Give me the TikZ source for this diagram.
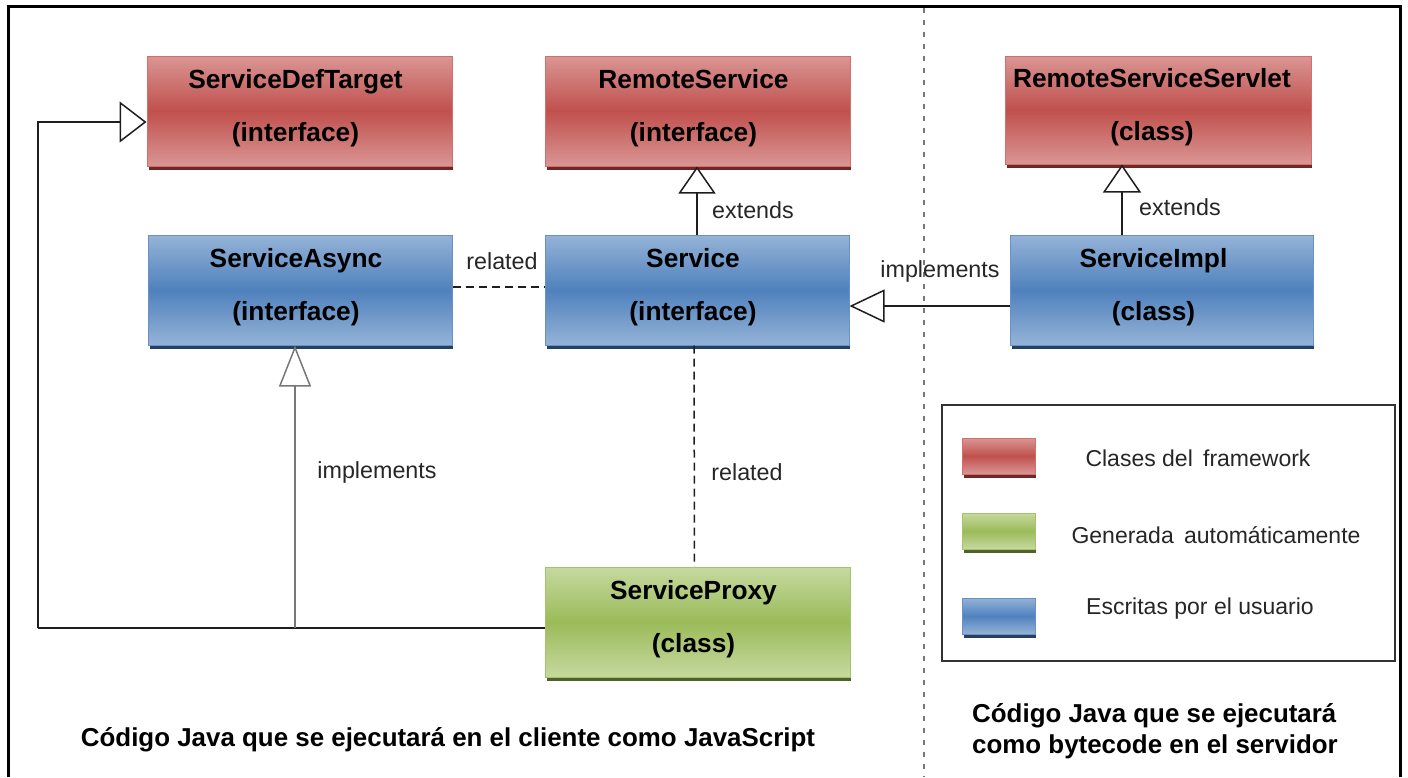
\documentclass[tikz,border=0pt]{standalone}
\usepackage{fontspec}
\setmainfont{Liberation Sans}
\usetikzlibrary{arrows.meta}

% Office-style palette
\definecolor{redL}{RGB}{218,150,148}
\definecolor{redM}{RGB}{192,80,77}
\definecolor{redS}{RGB}{110,40,38}
\definecolor{redB}{RGB}{210,110,108}
\definecolor{blueL}{RGB}{149,179,215}
\definecolor{blueM}{RGB}{79,129,189}
\definecolor{blueS}{RGB}{38,64,98}
\definecolor{blueB}{RGB}{105,145,200}
\definecolor{greenL}{RGB}{198,217,160}
\definecolor{greenM}{RGB}{155,187,89}
\definecolor{greenS}{RGB}{79,98,40}
\definecolor{greenB}{RGB}{165,195,105}
\definecolor{lineC}{RGB}{30,30,30}
\definecolor{grayC}{RGB}{120,120,120}

\tikzset{
  umlbox/.style={rectangle, inner sep=0pt, line width=1pt,
    draw=#1B, top color=#1L, bottom color=#1L, middle color=#1M},
  boxtext/.style={align=center, inner sep=0pt,
    font=\fontsize{26.3}{53}\selectfont\bfseries},
  lbl/.style={inner sep=0pt, font=\fontsize{23.3}{27}\selectfont, text=black!85},
  legtext/.style={inner sep=0pt, font=\fontsize{23}{27}\selectfont, text=black!85},
  foot/.style={inner sep=0pt, align=left, font=\fontsize{25.9}{31}\selectfont\bfseries},
  conn/.style={line width=1.5pt, draw=lineC},
  gen/.style 2 args={conn, -{Triangle[length=#1pt, width=#2pt, fill=white, line width=1.5pt]}},
  rel/.style={conn, dash pattern=on 8pt off 5pt},
}

% bottom shadow strip under a box
\newcommand\shadowbar[2]{%
  \fill[#2] ([xshift=2pt]#1.south west) rectangle ([yshift=-3.5pt]#1.south east);}

\begin{document}
\begin{tikzpicture}[x=1pt, y=-1pt]
  \useasboundingbox (0,0) rectangle (1408,777);

  % outer frame and dividing line
  \draw[line width=3pt, black] (8,777) -- (8,6) -- (1400,6) -- (1400,777);
  \draw[line width=2pt, grayC, dash pattern=on 5pt off 7pt] (924,8) -- (924,777);

  % framework classes
  \node[umlbox=red, minimum width=305pt, minimum height=110pt] (sdt) at (299.5,111) {};
  \node[umlbox=red, minimum width=305pt, minimum height=110pt] (rs) at (697.5,111) {};
  \node[umlbox=red, minimum width=306pt, minimum height=108pt] (rss) at (1158,110) {};
  % user classes
  \node[umlbox=blue, minimum width=304pt, minimum height=110pt] (sa) at (300,290) {};
  \node[umlbox=blue, minimum width=304pt, minimum height=110pt] (svc) at (697,290) {};
  \node[umlbox=blue, minimum width=303pt, minimum height=110pt] (impl) at (1161.5,290) {};
  % generated class
  \node[umlbox=green, minimum width=305pt, minimum height=110pt] (proxy) at (697.5,622) {};

  \shadowbar{sdt}{redS}
  \shadowbar{rs}{redS}
  \shadowbar{rss}{redS}
  \shadowbar{sa}{blueS}
  \shadowbar{svc}{blueS}
  \shadowbar{impl}{blueS}
  \shadowbar{proxy}{greenS}

  % box captions
  \node[boxtext] (sdt-t) at ([xshift=-4pt,yshift=3pt]sdt.center) {ServiceDefTarget\\(interface)};
  \node[boxtext] (rs-t) at ([xshift=-4pt,yshift=3pt]rs.center) {RemoteService\\(interface)};
  \node[boxtext] (rss-t) at ([xshift=-6pt,yshift=3pt]rss.center) {RemoteServiceServlet\\(class)};
  \node[boxtext] (sa-t) at ([xshift=-4pt,yshift=3pt]sa.center) {ServiceAsync\\(interface)};
  \node[boxtext] (svc-t) at ([xshift=-4pt,yshift=3pt]svc.center) {Service\\(interface)};
  \node[boxtext] (impl-t) at ([xshift=-8pt,yshift=3pt]impl.center) {ServiceImpl\\(class)};
  \node[boxtext] (proxy-t) at ([xshift=-4pt,yshift=3pt]proxy.center) {ServiceProxy\\(class)};

  % client side connectors
  \coordinate (corner) at (38,628);
  \coordinate (joint) at (295,628);
  \draw[conn] ([yshift=-6pt]proxy.west) -- (corner);
  \draw[gen={27}{41}] (corner) |- ([yshift=-11pt]sdt.west);
  \draw[gen={41}{32}, draw=grayC] (joint) -- (joint |- sa.south);
  \draw[gen={27}{37}] (svc.north) -- (svc.north |- rs.south);
  \draw[rel] ([yshift=3pt]sa.east) -- ([yshift=3pt]svc.west);
  \draw[rel] ([xshift=-3pt]svc.south) -- ([xshift=-3pt]proxy.north);

  % server side connectors
  \coordinate (implTop) at ([xshift=-39.5pt]impl.north);
  \draw[gen={28}{38}] (implTop) -- (implTop |- rss.south);
  \draw[gen={35}{33}] ([yshift=-16pt]impl.west) -- ([yshift=-16pt]svc.east);

  % connector labels
  \node[lbl] (l-rel1) at (502,261) {related};
  \node[lbl] (l-ext1) at (753,210) {extends};
  \node[lbl] (l-ext2) at (1180,207) {extends};
  \node[lbl] (l-imp1) at (940,271) {implements};
  \node[lbl] (l-imp2) at (377,472) {implements};
  \node[lbl] (l-rel2) at (747,472) {related};

  % legend
  \node[draw=black!80, line width=2pt, minimum width=453pt, minimum height=256pt,
        inner sep=0pt] (legend) at (1168.5,533) {};
  \node[umlbox=red, minimum width=73pt, minimum height=36pt] (k-red) at (998.5,456) {};
  \node[umlbox=green, minimum width=73pt, minimum height=36pt] (k-green) at (998.5,531) {};
  \node[umlbox=blue, minimum width=73pt, minimum height=36pt] (k-blue) at (998.5,616) {};
  \shadowbar{k-red}{redS}
  \shadowbar{k-green}{greenS}
  \shadowbar{k-blue}{blueS}
  \node[legtext] (k-red-t) at (1198,458) {Clases del\, framework};
  \node[legtext] (k-green-t) at (1216,535) {Generada\, automáticamente};
  \node[legtext] (k-blue-t) at (1200,609) {Escritas por el usuario};

  % side captions
  \node[foot] (cap-client) at (448,740) {Código Java que se ejecutará en el cliente como JavaScript};
  \node[foot, anchor=west] (cap-server) at (972,731) {Código Java que se ejecutará\\como bytecode en el servidor};
\end{tikzpicture}
\end{document}
